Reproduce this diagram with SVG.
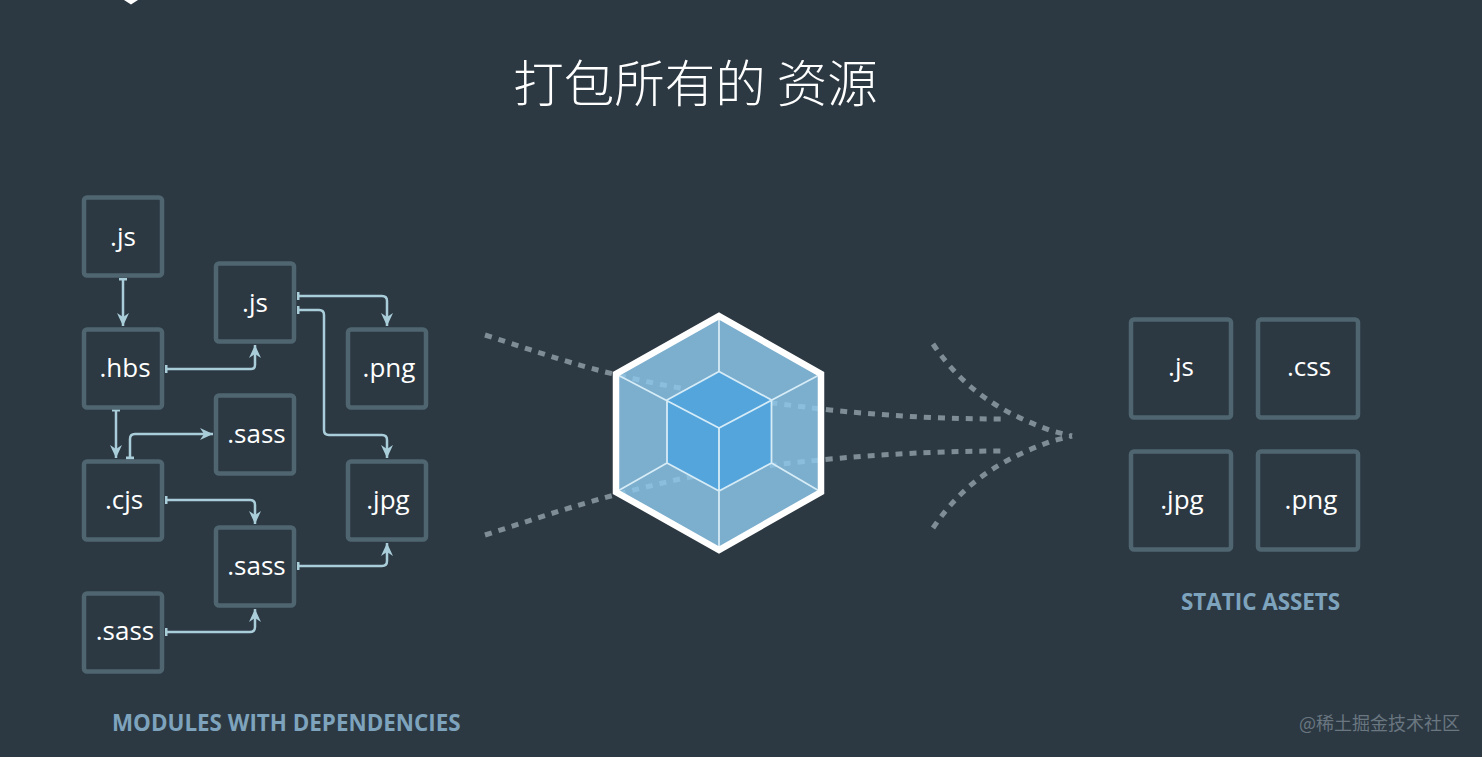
<svg xmlns="http://www.w3.org/2000/svg" width="1482" height="757" viewBox="0 0 1482 757">
<style>
.box{fill:none;stroke:#4f6671;stroke-width:4.5}
.lb{font-family:"Open Sans","Noto Sans",sans-serif;font-size:26px;fill:#fff;text-anchor:middle}
.cap{font-family:"Open Sans","Noto Sans",sans-serif;font-size:22.4px;font-weight:700;fill:#7ea3bd}
.c{fill:none;stroke:#a9cdd9;stroke-width:2.5;marker-start:url(#tee);marker-end:url(#arr)}
.d{fill:none;stroke:#7f8e96;stroke-width:5;stroke-dasharray:7 7}
</style>
<defs>
<marker id="arr" markerUnits="userSpaceOnUse" markerWidth="16" markerHeight="14" refX="14" refY="7" orient="auto"><path d="M14,7L1,1L5,7L1,13Z" fill="#a9cdd9"/></marker>
<marker id="tee" markerUnits="userSpaceOnUse" markerWidth="4" markerHeight="10" refX="1.5" refY="5" orient="auto"><rect x="0" y="1" width="3" height="8" fill="#a9cdd9"/></marker>
</defs>
<rect width="1482" height="757" fill="#2c3943"/>
<polygon points="124,0 131,4.5 138,0" fill="#fff"/>
<text x="695.5" y="102" font-family="'Noto Sans CJK SC',sans-serif" font-size="50.5" font-weight="300" fill="#fff" text-anchor="middle">打包所有的 资源</text>
<g id="dashes">
<path class="d" d="M485,335C545,354 590,372 680,388C720,396 760,402 830,410C900,417 950,419 1005,419"/>
<path class="d" d="M485,535C545,516 590,499 680,479C720,471 760,466 830,459C900,453 950,451 1005,451"/>
<path class="d" d="M933,344C965,392 1005,414 1052,431L1072,436"/>
<path class="d" d="M933,528C965,480 1005,458 1052,441L1072,436"/>
</g>
<g id="webpack-cube">
<polygon points="719,316 821,374 821,492 719,550 616,492 616,374" fill="#8dc8ec" fill-opacity=".82"/>
<polygon points="719,371.5 771.5,400 771.5,463 719,491 667,463 667,400" fill="#55a5dd"/>
<path d="M719,316V371.5M616,374L719,428M821,374L719,428M719,428V550M616,492L667,463M821,492L771.5,463M667,400L719,371.5L771.5,400V463L719,491L667,463Z" fill="none" stroke="#d6ecf7" stroke-width="1.8"/>
<polygon points="719,316 821,374 821,492 719,550 616,492 616,374" fill="none" stroke="#fff" stroke-width="6.5"/>
</g>
<g id="connectors">
<path class="c" d="M123,279V326"/>
<path class="c" d="M166,369H251Q255,369 255,365V345"/>
<path class="c" d="M298,296H382Q387,296 387,301V326"/>
<path class="c" d="M298,310H319Q324,310 324,315V430Q324,435 329,435H382Q387,435 387,440V458"/>
<path class="c" d="M116,410V458"/>
<path class="c" d="M130,458V439Q130,434 135,434H213"/>
<path class="c" d="M166,500H250Q255,500 255,505V524"/>
<path class="c" d="M298,566H382Q387,566 387,561V543"/>
<path class="c" d="M166,632H250Q255,632 255,627V609"/>
</g>
<g id="n-js1"><rect class="box" x="84" y="197.5" width="78" height="78" rx="3"/><text class="lb" x="123" y="246">.js</text></g>
<g id="n-hbs"><rect class="box" x="84" y="329.5" width="78" height="78" rx="3"/><text class="lb" x="125" y="377">.hbs</text></g>
<g id="n-cjs"><rect class="box" x="84" y="461.5" width="78" height="78" rx="3"/><text class="lb" x="124" y="509">.cjs</text></g>
<g id="n-sass3"><rect class="box" x="84" y="593.5" width="78" height="78" rx="3"/><text class="lb" x="125" y="640">.sass</text></g>
<g id="n-js2"><rect class="box" x="216" y="263.5" width="78" height="78" rx="3"/><text class="lb" x="255" y="312">.js</text></g>
<g id="n-sass1"><rect class="box" x="216" y="395.5" width="78" height="78" rx="3"/><text class="lb" x="256.500" y="443">.sass</text></g>
<g id="n-sass2"><rect class="box" x="216" y="527.5" width="78" height="78" rx="3"/><text class="lb" x="256.500" y="575">.sass</text></g>
<g id="n-png"><rect class="box" x="348" y="329.5" width="78" height="78" rx="3"/><text class="lb" x="389" y="377">.png</text></g>
<g id="n-jpg"><rect class="box" x="348" y="461.5" width="78" height="78" rx="3"/><text class="lb" x="388" y="509">.jpg</text></g>
<g id="a-js"><rect class="box" x="1131" y="319.5" width="100" height="98" rx="3"/><text class="lb" x="1181" y="376">.js</text></g>
<g id="a-css"><rect class="box" x="1258" y="319.5" width="100" height="98" rx="3"/><text class="lb" x="1309" y="376">.css</text></g>
<g id="a-jpg"><rect class="box" x="1131" y="451.5" width="100" height="98" rx="3"/><text class="lb" x="1182" y="509">.jpg</text></g>
<g id="a-png"><rect class="box" x="1258" y="451.5" width="100" height="98" rx="3"/><text class="lb" x="1311" y="509">.png</text></g>
<text class="cap" x="112" y="731">MODULES WITH DEPENDENCIES</text>
<text class="cap" x="1181" y="610">STATIC ASSETS</text>
<text x="1299" y="730" font-family="'Noto Sans CJK SC',sans-serif" font-size="18" fill="#6a7680">@稀土掘金技术社区</text>
</svg>
